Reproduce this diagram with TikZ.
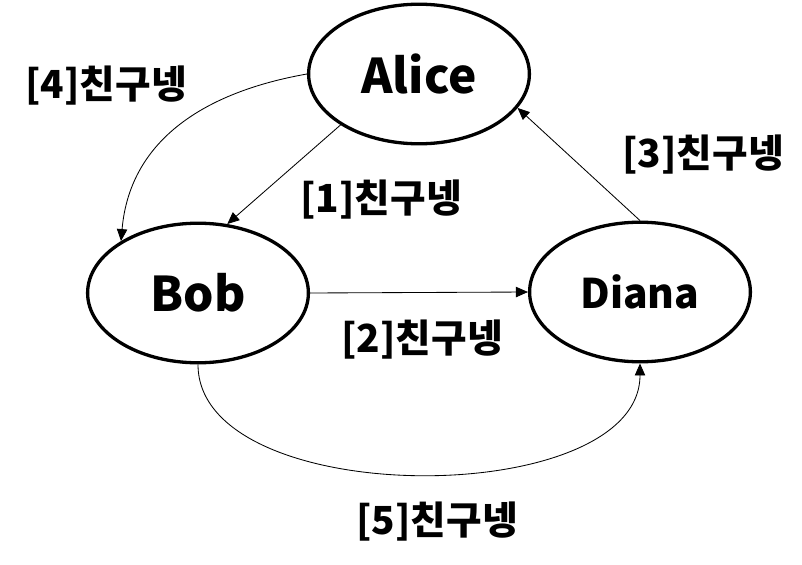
\documentclass[tikz,border=0pt]{standalone}
\usepackage{fontspec}
\usepackage{tikz}
\usetikzlibrary{arrows.meta,shapes.geometric}
\newfontfamily\krfont{Noto Sans CJK KR}

\begin{document}
\begin{tikzpicture}[
    person/.style={
      ellipse,
      draw=black,
      fill=white,
      line width=2.35pt,
      minimum width=5.52cm,
      minimum height=3.49cm,
      inner sep=0pt,
      font=\krfont\bfseries\fontsize{34}{40}\selectfont
    },
    tag/.style={
      inner sep=0pt,
      font=\krfont\bfseries\fontsize{27.5}{32}\selectfont
    },
    flow/.style={
      -{Triangle[length=3mm,width=2.6mm]},
      draw=black,
      line width=0.6pt
    }
  ]
    \useasboundingbox (0,0) rectangle (20.05,14.1);
    \node[person] (alice) at (10.475,12.25) {Alice};
    \node[person] (bob) at (4.95,6.775) {Bob};
    \node[person, font=\krfont\bfseries\fontsize{29}{34}\selectfont] (diana) at (16.0,6.8) {Diana};

    \node[tag] (t1) at (9.525,9.1) {[1]친구넹};
    \node[tag] (t2) at (10.55,5.6) {[2]친구넹};
    \node[tag] (t3) at (17.575,10.225) {[3]친구넹};
    \node[tag] (t4) at (2.65,11.95) {[4]친구넹};
    \node[tag] (t5) at (10.925,1.05) {[5]친구넹};

    \draw[flow] (alice.213) -- (bob.67);
    \draw[flow] (bob.east) -- (diana.west);
    \draw[flow] (diana.90) -- (alice.341);
    \draw[flow] (alice.west) to[out=190,in=85,looseness=1.05] (bob.146);
    \draw[flow] (bob.south) to[out=-90,in=-90,looseness=0.85] (diana.south);
  \end{tikzpicture}
\end{document}
